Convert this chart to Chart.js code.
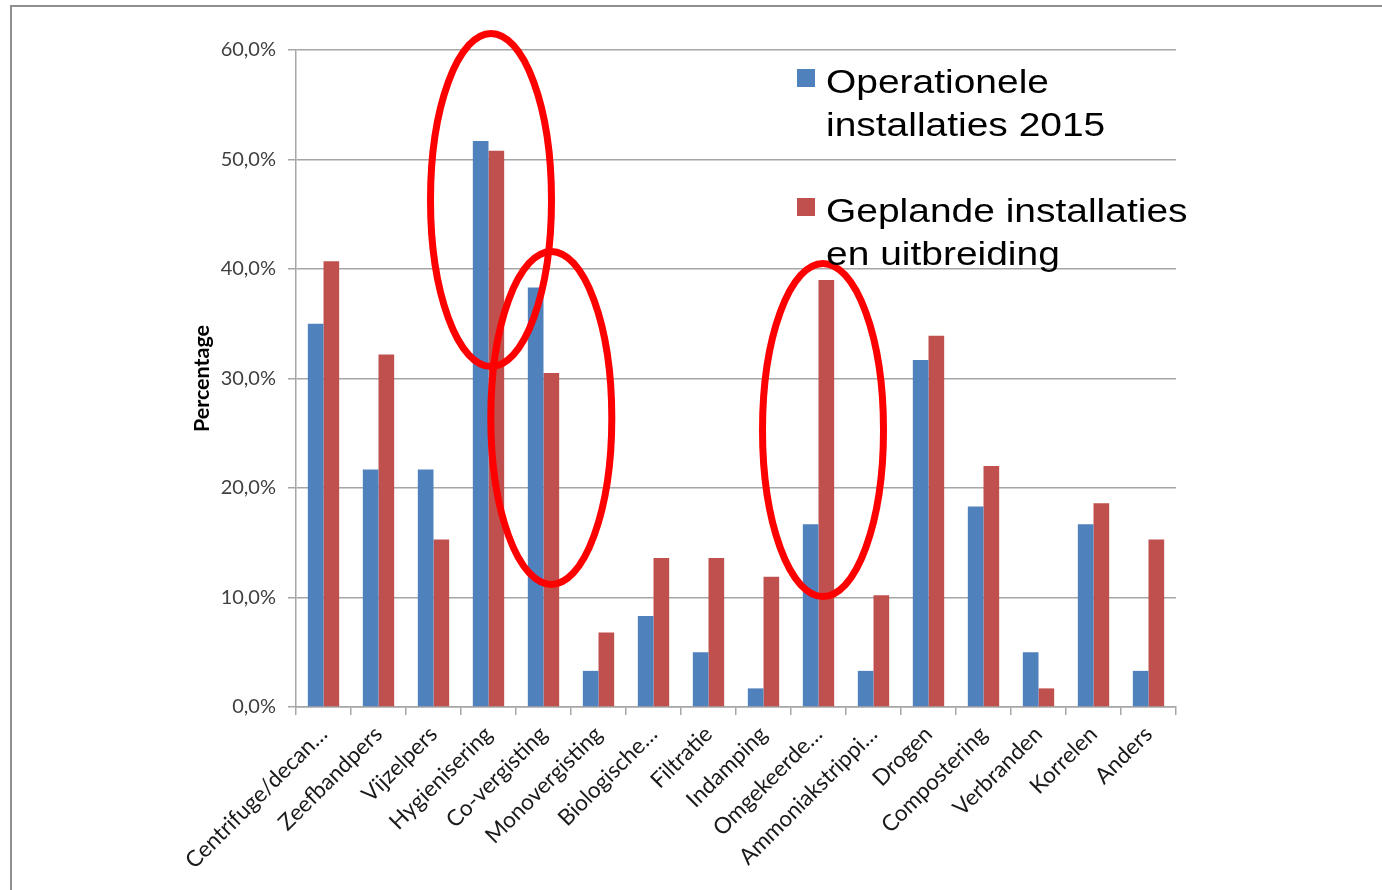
<!DOCTYPE html>
<html><head><meta charset="utf-8">
<script src="https://cdn.jsdelivr.net/npm/chart.js@4.4.0/dist/chart.umd.min.js"></script>
<style>
html,body{margin:0;padding:0;background:#fff;}
#wrap{position:relative;width:1382px;height:890px;overflow:hidden;background:#fff;}
#frame{position:absolute;left:10px;top:5px;width:1400px;height:900px;border-left:2px solid #8f8f8f;border-top:2px solid #8f8f8f;}
canvas{position:absolute;left:0;top:0;}
.leg{position:absolute;font-family:"Liberation Sans",Arial,sans-serif;font-size:33px;line-height:43px;color:#000;white-space:nowrap;transform:scaleX(1.18);transform-origin:0 0;}
.sw{position:absolute;width:18px;height:18px;}
</style></head>
<body><div id="wrap"><div id="frame"></div><canvas id="c" width="1382" height="890"></canvas><div id="legend"></div></div>
<script>
// ---- data ----
const categories = ['Centrifuge/decan…','Zeefbandpers','Vijzelpers','Hygienisering','Co-vergisting','Monovergisting','Biologische…','Filtratie','Indamping','Omgekeerde…','Ammoniakstrippi…','Drogen','Compostering','Verbranden','Korrelen','Anders'];
const operational = [35.0, 21.7, 21.7, 51.7, 38.3, 3.3, 8.3, 5.0, 1.7, 16.7, 3.3, 31.7, 18.3, 5.0, 16.7, 3.3];
const planned     = [40.7, 32.2, 15.3, 50.8, 30.5, 6.8, 13.6, 13.6, 11.9, 39.0, 10.2, 33.9, 22.0, 1.7, 18.6, 15.3];
const seriesNames = ['Operationele installaties 2015', 'Geplande installaties en uitbreiding'];
const legendLines = [['Operationele','installaties 2015'],['Geplande installaties','en uitbreiding']];
const yTickValues = [0, 10, 20, 30, 40, 50, 60];
const axisTitle = 'Percentage';
// highlighted categories (red ellipses): centre value on the y axis
const highlights = [
  {category:'Hygienisering', center:46.3},
  {category:'Co-vergisting', center:26.4},
  {category:'Omgekeerde…', center:25.3}
];
const highlightOffsets = [2.5, 7.8, 4.5];

const colors = ['#4F81BD', '#C0504D'];

// ---- legend (HTML text) ----
const legendPos = [{sx:797, sy:69, tx:826, ty:60},{sx:797, sy:198, tx:826, ty:189}];
const legendEl = document.getElementById('legend');
legendLines.forEach((lines, i) => {
  const p = legendPos[i];
  const sw = document.createElement('div');
  sw.className = 'sw'; sw.style.left = p.sx + 'px'; sw.style.top = p.sy + 'px'; sw.style.background = colors[i];
  sw.title = seriesNames[i];
  legendEl.appendChild(sw);
  const t = document.createElement('div');
  t.className = 'leg'; t.style.left = p.tx + 'px'; t.style.top = p.ty + 'px';
  t.innerHTML = lines.join('<br>');
  legendEl.appendChild(t);
});

// ---- ellipse annotation plugin ----
const ellipsePlugin = {
  id: 'ellipses',
  afterDatasetsDraw(chart) {
    const {ctx, scales: {x, y}} = chart;
    ctx.save();
    ctx.strokeStyle = '#ff0000';
    ctx.lineWidth = 7;
    highlights.forEach((h, i) => {
      const cx = x.getPixelForValue(categories.indexOf(h.category)) + highlightOffsets[i];
      const cy = y.getPixelForValue(h.center);
      ctx.beginPath();
      ctx.ellipse(cx, cy, 60.5, 166.5, 0, 0, Math.PI * 2);
      ctx.stroke();
    });
    ctx.restore();
  }
};

const gridColor = '#a6a6a6';
new Chart(document.getElementById('c'), {
  type: 'bar',
  data: {
    labels: categories,
    datasets: [
      {label: seriesNames[0], data: operational, backgroundColor: colors[0], barPercentage: 1, categoryPercentage: 0.57},
      {label: seriesNames[1], data: planned, backgroundColor: colors[1], barPercentage: 1, categoryPercentage: 0.57}
    ]
  },
  options: {
    responsive: false,
    animation: false,
    devicePixelRatio: 1,
    layout: {padding: {left: 186, top: 50, right: 206, bottom: 0}},
    plugins: {legend: {display: false}, tooltip: {enabled: false}},
    scales: {
      x: {
        ticks: {minRotation: 45, maxRotation: 45, autoSkip: false, color: '#1a1a1a', font: {family: 'Lato', size: 22.5}, padding: 6},
        grid: {drawOnChartArea: false, offset: true, tickLength: 8, color: gridColor, lineWidth: 1.5},
        border: {color: gridColor, width: 1.5},
        afterFit(s) { s.height = 183; }
      },
      y: {
        min: 0, max: 60,
        afterBuildTicks(s) { s.ticks = yTickValues.map(v => ({value: v})); },
        ticks: {color: '#404040', font: {family: 'Lato', size: 20}, padding: 12,
          callback: v => v.toFixed(1).replace('.', ',') + '%'},
        grid: {color: gridColor, lineWidth: 1.5, tickLength: 8},
        border: {color: gridColor, width: 1.5},
        title: {display: true, text: axisTitle, color: '#000', font: {family: 'Lato', size: 21.5, weight: 'bold'}, padding: {top: 3, bottom: 4}},
        afterFit(s) { s.width = 110; }
      }
    }
  },
  plugins: [ellipsePlugin]
});
</script>
</body></html>
